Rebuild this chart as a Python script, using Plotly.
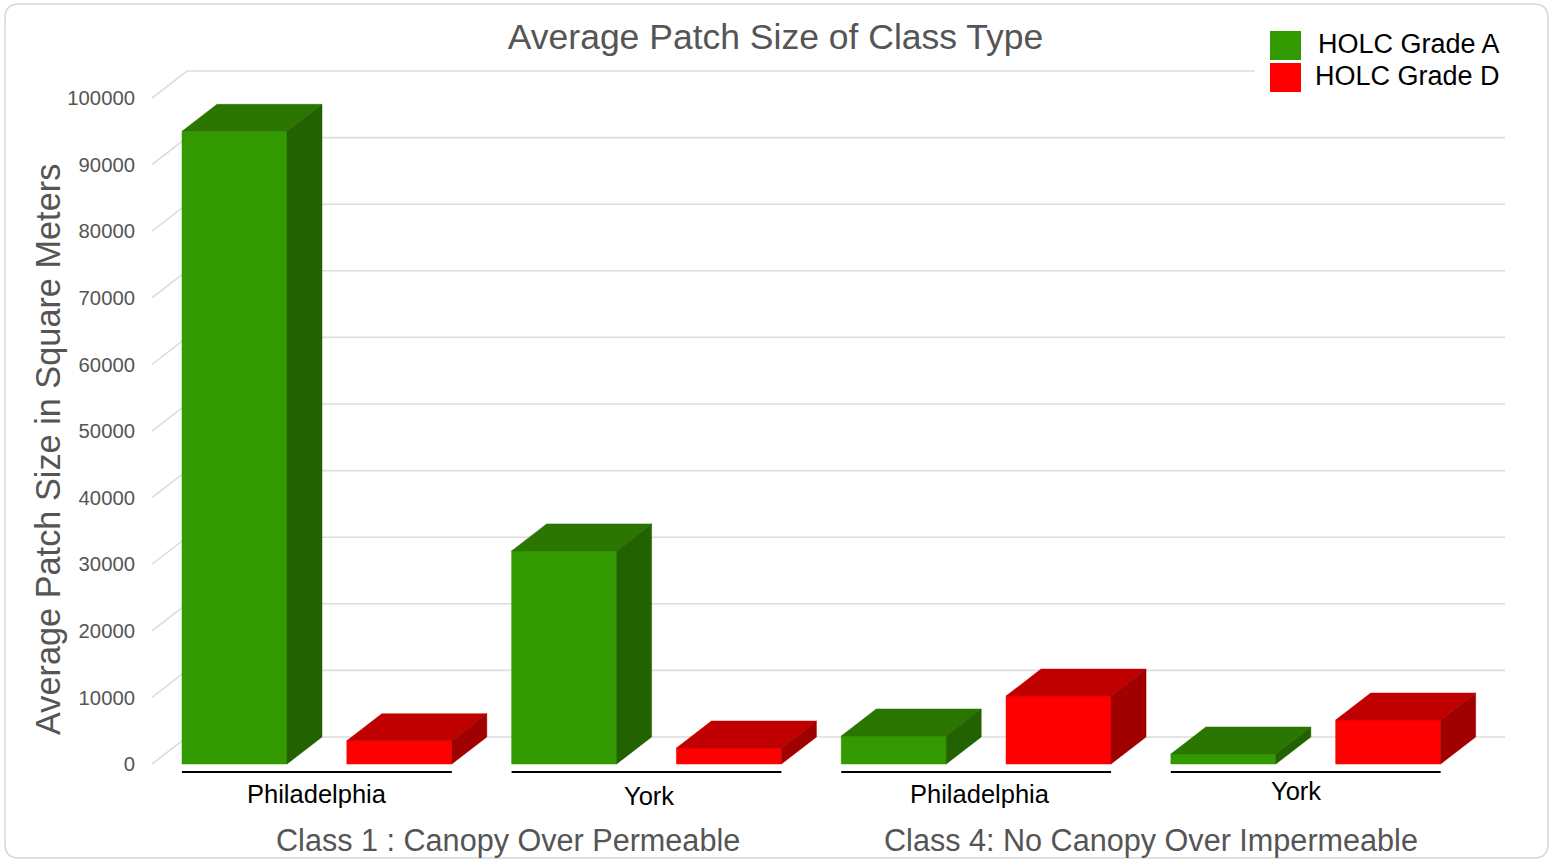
import plotly.graph_objects as go

# ---------------- data ----------------
cities = ["Philadelphia", "York", "Philadelphia", "York"]
class_labels = ["Class 1 : Canopy Over Permeable", "Class 4: No Canopy Over Impermeable"]
series_names = ["HOLC Grade A", "HOLC Grade D"]
grade_a = [95000, 32000, 4200, 1500]
grade_d = [3500, 2400, 10200, 6600]
y_ticks = [0, 10000, 20000, 30000, 40000, 50000, 60000, 70000, 80000, 90000, 100000]

# ---------------- geometry / style ----------------
W, H = 1556, 861
ML, MR, MT, MB = 152, 51, 60, 81
PW, PH = W - ML - MR, H - MT - MB
X_RANGE = [-0.5006, 7.709]
Y_RANGE = [-2402, 105706]
UX = (X_RANGE[1] - X_RANGE[0]) / PW   # data units per pixel
UY = (Y_RANGE[1] - Y_RANGE[0]) / PH
BAR_W = 105 * UX
DX = 35 * UX
DY = 27 * UY

FONT = "Liberation Sans, Arial, sans-serif"
GRAY = "#555555"
COLORS = {
    "A": {"front": "#339900", "top": "#2b7600", "side": "#226200"},
    "D": {"front": "#ff0000", "top": "#c00000", "side": "#a10000"},
}


def px_x(p):
    return (p - ML) / PW


def px_y(p):
    return (H - MB - p) / PH


def faces(xc, v):
    x0, x1 = xc - BAR_W / 2, xc + BAR_W / 2
    front = ([x0, x1, x1, x0, x0], [0, 0, v, v, 0])
    top = ([x0, x1, x1 + DX, x0 + DX, x0], [v, v, v + DY, v + DY, v])
    side = ([x1, x1 + DX, x1 + DX, x1, x1], [0, DY, v + DY, v, 0])
    return {"front": front, "top": top, "side": side}


fig = go.Figure()

# back-wall gridlines with perspective diagonals
gx, gy = [], []
for t in y_ticks:
    gx += [X_RANGE[0], X_RANGE[0] + DX, X_RANGE[1], None]
    gy += [t, t + DY, t + DY, None]
fig.add_trace(go.Scatter(x=gx, y=gy, mode="lines", line=dict(color="#dddddd", width=1.6),
                         hoverinfo="skip", showlegend=False))

# 3D bars
for key, vals, name in (("A", grade_a, series_names[0]), ("D", grade_d, series_names[1])):
    offset = 0 if key == "A" else 1
    for face in ("front", "top", "side"):
        xs, ys = [], []
        for g, v in enumerate(vals):
            fx, fy = faces(2 * g + offset, v)[face]
            xs += fx + [None]
            ys += fy + [None]
        col = COLORS[key][face]
        fig.add_trace(go.Scatter(x=xs, y=ys, mode="lines", fill="toself", fillcolor=col,
                                 line=dict(color=col, width=0.5), name=name,
                                 hoverinfo="skip", showlegend=False))

# group underlines
ux_, uy_ = [], []
for g in range(len(cities)):
    ux_ += [2 * g - BAR_W / 2, 2 * g + 1 + BAR_W / 2, None]
    uy_ += [-8 * UY, -8 * UY, None]
fig.add_trace(go.Scatter(x=ux_, y=uy_, mode="lines", line=dict(color="black", width=2),
                         hoverinfo="skip", showlegend=False))

annotations = []
label_nudge = [(0, -30), (2, -32), (4, -30), (-10, -27)]
for g, city in enumerate(cities):
    annotations.append(dict(x=2 * g + 0.5, y=0, xref="x", yref="y", text=city, showarrow=False,
                            xanchor="center", yanchor="middle",
                            xshift=label_nudge[g][0], yshift=label_nudge[g][1],
                            font=dict(family=FONT, size=25.5, color="black")))
class_nudge = [26, 10]
for c, lab in enumerate(class_labels):
    annotations.append(dict(x=4 * c + 1.5, y=0, xref="x", yref="y", text=lab, showarrow=False,
                            xanchor="center", yanchor="middle", xshift=class_nudge[c], yshift=-76,
                            font=dict(family=FONT, size=30.6, color=GRAY)))
# y axis title
annotations.append(dict(x=px_x(48), y=px_y(450), xref="paper", yref="paper",
                        text="Average Patch Size in Square Meters", textangle=-90, showarrow=False,
                        xanchor="center", yanchor="middle",
                        font=dict(family=FONT, size=34.3, color=GRAY)))

shapes = []
# card border (rounded)
x0, y0, x1, y1, r = 5, 4, 1548, 858, 14
path = (f"M {px_x(x0 + r)},{px_y(y0)} L {px_x(x1 - r)},{px_y(y0)} "
        f"Q {px_x(x1)},{px_y(y0)} {px_x(x1)},{px_y(y0 + r)} "
        f"L {px_x(x1)},{px_y(y1 - r)} Q {px_x(x1)},{px_y(y1)} {px_x(x1 - r)},{px_y(y1)} "
        f"L {px_x(x0 + r)},{px_y(y1)} Q {px_x(x0)},{px_y(y1)} {px_x(x0)},{px_y(y1 - r)} "
        f"L {px_x(x0)},{px_y(y0 + r)} Q {px_x(x0)},{px_y(y0)} {px_x(x0 + r)},{px_y(y0)} Z")
shapes.append(dict(type="path", path=path, xref="paper", yref="paper",
                   line=dict(color="#d6d6d6", width=1.5), layer="below"))
# legend (white background + swatches)
shapes.append(dict(type="rect", xref="paper", yref="paper", x0=px_x(1255), x1=px_x(1512),
                   y0=px_y(100), y1=px_y(20), fillcolor="white", line=dict(width=0), layer="above"))
legend_rows = [(31, 60, COLORS["A"]["front"], 1316, 44, series_names[0]),
               (63, 92, COLORS["D"]["front"], 1313, 76, series_names[1])]
for ytop, ybot, col, tx, ty, txt in legend_rows:
    shapes.append(dict(type="rect", xref="paper", yref="paper", x0=px_x(1270), x1=px_x(1301),
                       y0=px_y(ybot), y1=px_y(ytop), fillcolor=col, line=dict(width=0), layer="above"))
    annotations.append(dict(x=px_x(tx), y=px_y(ty), xref="paper", yref="paper", text=txt,
                            showarrow=False, xanchor="left", yanchor="middle",
                            font=dict(family=FONT, size=27, color="black")))

fig.update_layout(
    width=W, height=H, autosize=False,
    margin=dict(l=ML, r=MR, t=MT, b=MB, pad=0),
    paper_bgcolor="white", plot_bgcolor="white",
    title=dict(text="Average Patch Size of Class Type", x=(508 + 1043) / 2 / W, xref="container",
               xanchor="center", y=1 - 37 / H, yref="container", yanchor="middle",
               font=dict(family=FONT, size=35.5, color=GRAY)),
    xaxis=dict(range=X_RANGE, showgrid=False, zeroline=False, showline=False,
               showticklabels=False, ticks="", fixedrange=True),
    yaxis=dict(range=Y_RANGE, tickvals=y_ticks, ticktext=[str(t) for t in y_ticks],
               showgrid=False, zeroline=False, showline=False, ticks="", automargin=False,
               ticklabelstandoff=16, tickfont=dict(family=FONT, size=20.3, color=GRAY),
               fixedrange=True),
    showlegend=False,
    annotations=annotations,
    shapes=shapes,
)

fig.write_html("out.html")
